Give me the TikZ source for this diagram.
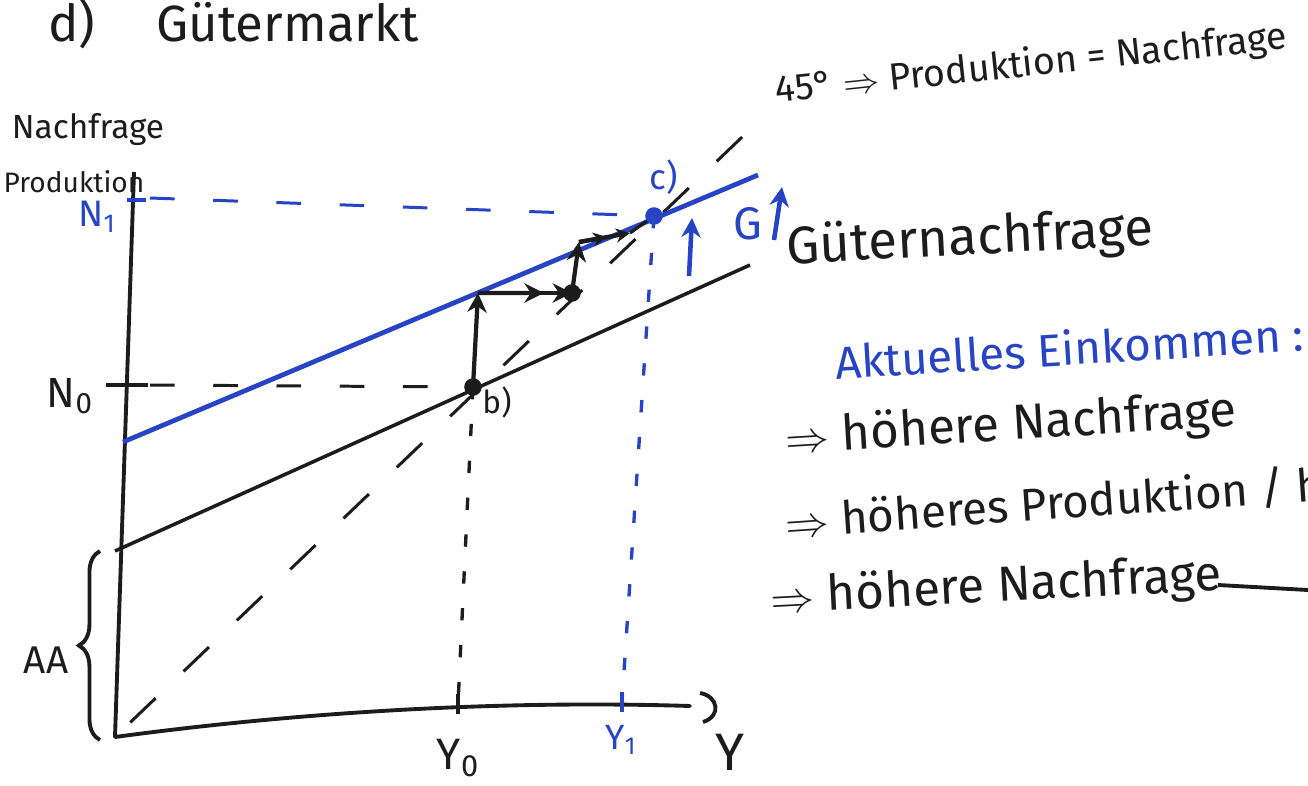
\documentclass[tikz,border=0pt]{standalone}
\usepackage{fontspec}
\setmainfont{Fira Sans}
\usetikzlibrary{arrows.meta,decorations.pathreplacing,calc}
\definecolor{penblue}{RGB}{38,68,196}
\definecolor{ink}{RGB}{28,28,28}
\begin{document}
\begin{tikzpicture}[x=0.02cm,y=-0.02cm,
  fs/.style={font=\fontsize{#1}{#1}\selectfont},
  lbl/.style={inner sep=0pt,text=ink},
  blbl/.style={inner sep=0pt,text=penblue},
  axisline/.style={line width=2.2pt,draw=ink},
  demand/.style={line width=2pt,draw=ink},
  bluedemand/.style={line width=2.7pt,draw=penblue},
  dashfortyfive/.style={line width=1.7pt,draw=ink,dash pattern=on 20pt off 22pt,dash phase=-12pt},
  hdash/.style={line width=1.7pt,dash pattern=on 14pt off 22pt},
  vdash/.style={line width=1.9pt,dash pattern=on 7pt off 14pt},
  stairarrow/.style={line width=2.4pt,draw=ink,-{Stealth[length=11pt,width=11pt]}},
  dotpt/.style={circle,fill=#1,inner sep=0pt,minimum size=10pt}
]
\useasboundingbox (0,0) rectangle (1308,785);

% coordinates
\coordinate (O) at (115,737);
\coordinate (ytop) at (134,172);
\coordinate (xend) at (690,706);
\coordinate (A) at (115,551);
\coordinate (Aend) at (750,265);
\coordinate (B1) at (123,442);
\coordinate (B1end) at (758,175);
\coordinate (b) at (473,387);
\coordinate (p1) at (478,293);
\coordinate (p2) at (572,293);
\coordinate (p3) at (579,242);
\coordinate (p4) at (630,233);
\coordinate (c) at (654,216);
\coordinate (d45) at (762,118);
\coordinate (yzero) at (458,704);
\coordinate (yone) at (622,702);

% axes
\draw[axisline] (O) -- (ytop);
\draw[axisline,line cap=round] (O) .. controls (300,712) and (500,700) .. (xend);
\draw[line width=2.2pt,ink] (700,693) .. controls (718,696) and (722,716) .. (703,722);

% 45 degree line
\draw[dashfortyfive] (O) -- (d45);

% demand lines
\draw[demand] (A) -- (Aend);
\draw[bluedemand] (B1) -- (B1end);

% dashed guides
\draw[hdash,ink] (150,385) -- (b);
\draw[hdash,penblue] (150,198) -- (c);
\draw[vdash,ink] (b) -- (yzero);
\draw[vdash,penblue] (c) -- (yone);

% ticks
\draw[line width=2.2pt,ink] (106,385) -- (148,385);
\draw[line width=2.2pt,penblue] (127,200) -- (146,200);
\draw[line width=2.4pt,ink] (458,694) -- (458,714);
\draw[line width=2.4pt,penblue] (622,692) -- (622,712);

% staircase
\draw[stairarrow] (b) -- (p1);
\draw[stairarrow] (p1) -- ($(p1)!0.7!(p2)$);
\draw[stairarrow] (p1) -- (p2);
\draw[stairarrow] (p2) -- (p3);
\draw[stairarrow,-{Stealth[length=8pt,width=8pt]}] (p3) -- ($(p3)!0.55!(p4)$);
\draw[stairarrow,-{Stealth[length=8pt,width=8pt]}] (p3) -- (p4);
\draw[line width=1.8pt,ink] (p4) -- (c);
\node[dotpt=ink] (bdot) at (b) {};
\node[dotpt=ink] (p2dot) at (p2) {};
\node[dotpt=penblue] (cdot) at (c) {};

% G shift arrows
\draw[line width=2.6pt,penblue,-{Stealth[length=11pt,width=11pt]}] (689,276) -- (692,218);
\draw[line width=2.6pt,penblue,-{Stealth[length=11pt,width=11pt]}] (774,240) -- (782,187);
\node[blbl,fs=26] (G) at (748,224) {G};

% brace
\draw[line width=2.2pt,ink,decorate,decoration={brace,amplitude=12pt}] (100,740) -- (100,551);

% labels
\node[lbl,fs=29,anchor=west] (title) at (48,24) {d)\hspace{1.2em}Gütermarkt};
\node[lbl,fs=19] (nachfrage) at (88,130) {Nachfrage};
\node[lbl,fs=16] (produktion) at (74,182) {Produktion};
\node[blbl,fs=21] (None) at (97,217) {N\textsubscript{1}};
\node[lbl,fs=24] (Nzero) at (70,396) {N\textsubscript{0}};
\node[lbl,fs=22] (AA) at (46,660) {AA};
\node[lbl,fs=25] (Yzero) at (458,758) {Y\textsubscript{0}};
\node[blbl,fs=20] (Yone) at (621,740) {Y\textsubscript{1}};
\node[lbl,fs=30] (Y) at (730,752) {Y};
\node[lbl,fs=18] (blabel) at (497,402) {b)};
\node[blbl,fs=20] (clabel) at (664,177) {c)};
\node[lbl,fs=30,rotate=3] (gn) at (970,240) {Güternachfrage};
\node[lbl,fs=21.5,rotate=6,anchor=west] (fortyfive) at (775,92) {45° $\Rightarrow$ Produktion = Nachfrage};

% right text block
\node[blbl,fs=26,rotate=3.5,anchor=west] (t0) at (835,362) {Aktuelles Einkommen :};
\node[lbl,fs=28,rotate=3.5,anchor=west] (t1) at (785,440) {$\Rightarrow$ höhere Nachfrage};
\node[lbl,fs=26,rotate=4,anchor=west] (t2) at (785,522) {$\Rightarrow$ höheres Produktion / hö};
\node[lbl,fs=28,rotate=3,anchor=west] (t3) at (770,600) {$\Rightarrow$ höhere Nachfrage};
\coordinate (t3line) at (1308,590);
\draw[line width=2.2pt,ink] (1218,585) -- (t3line);
\end{tikzpicture}
\end{document}
